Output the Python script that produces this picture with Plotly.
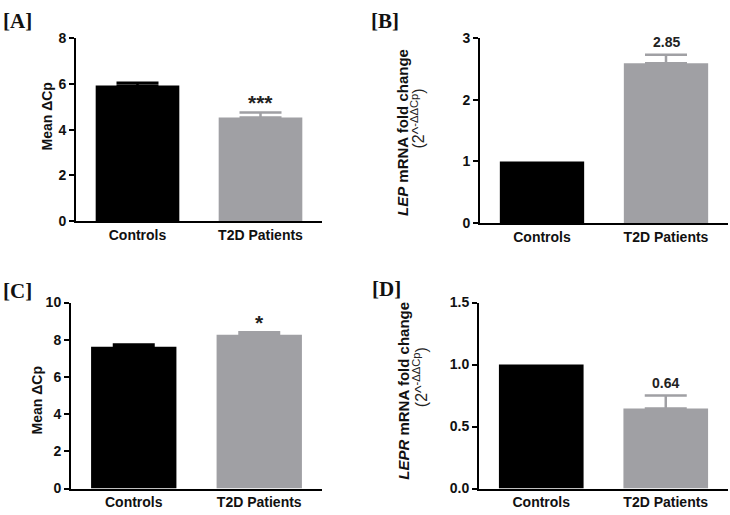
import plotly.graph_objects as go

W, H = 730, 515

categories = ["Controls", "T2D Patients"]
bar_colors = ["#000000", "#a0a0a4"]

a_vals = [5.93, 4.53]
a_err = [0.12, 0.22]
a_marks = ["", "***"]

b_vals = [1.0, 2.59]
b_err = [0.0, 0.14]
b_marks = ["", "2.85"]

c_vals = [7.62, 8.27]
c_err = [0.13, 0.14]
c_marks = ["", "*"]

d_vals = [1.0, 0.645]
d_err = [0.0, 0.105]
d_marks = ["", "0.64"]

a_ticks = [0, 2, 4, 6, 8]
b_ticks = [0, 1, 2, 3]
c_ticks = [0, 2, 4, 6, 8, 10]
d_ticks = [0.0, 0.5, 1.0, 1.5]

SANS = "Liberation Sans, Arial, sans-serif"
SERIF = "Liberation Serif, Times New Roman, serif"


def px_x(p):
    return p / W


def px_y(p):
    return 1 - p / H


# panel geometry in pixels: (x0, x1, ytop, ybottom)
panels = [
    dict(key="", vals=a_vals, err=a_err, marks=a_marks, ticks=a_ticks, fmt="d",
         box=(76, 322, 31, 220), rng=[0, 8]),
    dict(key="2", vals=b_vals, err=b_err, marks=b_marks, ticks=b_ticks, fmt="d",
         box=(480, 728, 31, 222), rng=[0, 3]),
    dict(key="3", vals=c_vals, err=c_err, marks=c_marks, ticks=c_ticks, fmt="d",
         box=(71, 322, 304, 496), rng=[0, 10]),
    dict(key="4", vals=d_vals, err=d_err, marks=d_marks, ticks=d_ticks, fmt=".1f",
         box=(479, 728, 304, 496), rng=[0, 1.5]),
]

fig = go.Figure()
annotations = []

tick_font = dict(family=SANS, size=14, color="#111", weight="bold")

for p in panels:
    xref = "x" + p["key"]
    yref = "y" + p["key"]
    for i, cat in enumerate(categories):
        e = p["err"][i]
        fig.add_trace(go.Bar(
            x=[cat], y=[p["vals"][i]],
            xaxis=xref, yaxis=yref,
            marker=dict(color=bar_colors[i], line=dict(width=0)),
            width=0.68,
            error_y=dict(type="data", array=[e], arrayminus=[0], symmetric=False,
                         visible=e > 0, color=bar_colors[i], thickness=2.5, width=21),
            showlegend=False, hoverinfo="skip",
        ))
        m = p["marks"][i]
        if m:
            star = m.startswith("*")
            annotations.append(dict(
                x=cat, y=p["vals"][i] + e, xref=xref, yref=yref,
                text=m, showarrow=False,
                yanchor="bottom", yshift=-4 if star else 3,
                font=dict(family=SANS, size=21 if star else 14, color="#222", weight="bold"),
            ))
    x0, x1, yt, yb = p["box"]
    xa = dict(domain=[px_x(x0), px_x(x1)], type="category", range=[-0.5, 1.5],
              showline=True, linecolor="#000", linewidth=2, ticks="",
              showgrid=False, zeroline=False,
              tickfont=tick_font,
              anchor=yref)
    ya = dict(domain=[px_y(yb), px_y(yt)], range=p["rng"],
              tickvals=p["ticks"], tickformat=p["fmt"],
              showline=True, linecolor="#000", linewidth=2,
              ticks="outside", ticklen=5, tickwidth=2, tickcolor="#000",
              showgrid=False, zeroline=False,
              tickfont=tick_font,
              anchor=xref)
    fig.update_layout(**{"xaxis" + p["key"]: xa, "yaxis" + p["key"]: ya})

# panel labels
for lab, x, y in [("[A]", 1, 13), ("[B]", 369, 13), ("[C]", 1, 292), ("[D]", 370, 290)]:
    annotations.append(dict(text=lab, x=px_x(x), y=px_y(y), xref="paper", yref="paper",
                            xanchor="left", yanchor="middle", showarrow=False,
                            font=dict(family=SERIF, size=21, color="#111", weight="bold")))

title_font = dict(family=SANS, size=14, color="#111", weight="bold")
big_title_font = dict(family=SANS, size=15, color="#111", weight="bold")
sub_font = dict(family=SANS, size=16, color="#222")

# axis titles
annotations.append(dict(text="Mean ΔCp", x=px_x(47), y=px_y(112), xref="paper", yref="paper",
                        textangle=-90, showarrow=False, xanchor="center", yanchor="middle",
                        font=title_font))
annotations.append(dict(text="Mean ΔCp", x=px_x(37), y=px_y(405), xref="paper", yref="paper",
                        textangle=-90, showarrow=False, xanchor="center", yanchor="middle",
                        font=title_font))
annotations.append(dict(text="<i>LEP</i> mRNA fold change", x=px_x(402), y=px_y(128),
                        xref="paper", yref="paper", textangle=-90, showarrow=False,
                        xanchor="center", yanchor="middle", font=big_title_font))
annotations.append(dict(text="(2^<sup>-ΔΔCp</sup>)", x=px_x(418), y=px_y(114),
                        xref="paper", yref="paper", textangle=-90, showarrow=False,
                        xanchor="center", yanchor="middle", font=sub_font))
annotations.append(dict(text="<i>LEPR</i> mRNA fold change", x=px_x(404), y=px_y(395),
                        xref="paper", yref="paper", textangle=-90, showarrow=False,
                        xanchor="center", yanchor="middle", font=big_title_font))
annotations.append(dict(text="(2^<sup>-ΔΔCp</sup>)", x=px_x(420), y=px_y(381),
                        xref="paper", yref="paper", textangle=-90, showarrow=False,
                        xanchor="center", yanchor="middle", font=sub_font))

fig.update_layout(
    width=W, height=H, margin=dict(l=0, r=0, t=0, b=0),
    paper_bgcolor="white", plot_bgcolor="white",
    annotations=annotations, bargap=0.3,
)

fig.write_html("out.html")
